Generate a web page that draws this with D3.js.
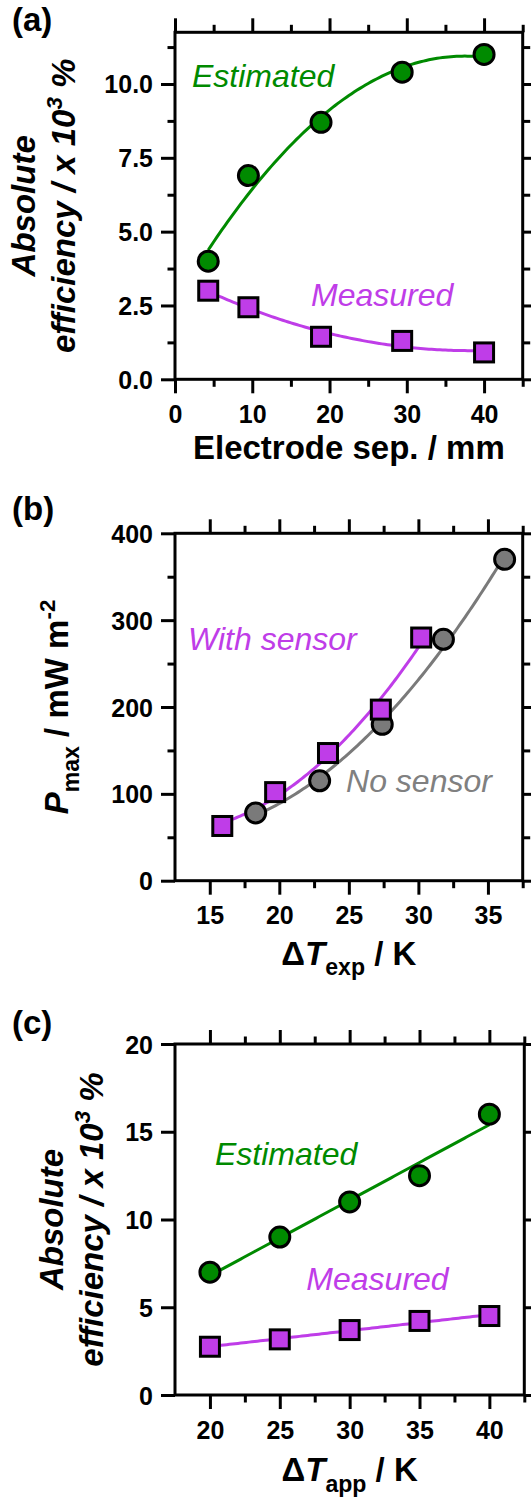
<!DOCTYPE html>
<html>
<head>
<meta charset="utf-8">
<script src="https://cdn.jsdelivr.net/npm/d3@7"></script>
<style>
  body { margin: 0; background: #fff; }
  text { font-family: "Liberation Sans", Arial, sans-serif; }
</style>
</head>
<body>
<div id="chart"></div>
<script>
// (a) efficiency vs electrode separation
const sepMM = [4.3, 9.5, 18.9, 29.4, 40];
const effEstA = [4.0, 6.9, 8.7, 10.4, 11.0];
const effMeasA = [3.0, 2.44, 1.44, 1.3, 0.91];

// (b) power vs experimental dT
const dTwith = [15.9, 19.7, 23.5, 27.3, 30.2];
const pWith = [63, 102, 147, 197, 280];
const dTno = [18.3, 22.9, 27.4, 31.8, 36.2];
const pNo = [78, 115, 180, 278, 370];

// (c) efficiency vs applied dT
const dTapp = [20, 25, 30, 35, 40];
const effEstC = [7.0, 9.0, 11.0, 12.5, 16.0];
const effMeasC = [2.75, 3.17, 3.7, 4.22, 4.5];

// ticks
const xMajorA = [0, 10, 20, 30, 40], xMinorA = [5, 15, 25, 35, 45];
const yMajorA = [0, 2.5, 5, 7.5, 10], yMinorA = [1.25, 3.75, 6.25, 8.75, 11.25];
const xMajorB = [15, 20, 25, 30, 35], xMinorB = [17.5, 22.5, 27.5, 32.5, 37.5];
const yMajorB = [0, 100, 200, 300, 400], yMinorB = [50, 150, 250, 350];
const xMajorC = [20, 25, 30, 35, 40], xMinorC = [22.5, 27.5, 32.5, 37.5, 42.5];
const yMajorC = [0, 5, 10, 15, 20];

const GREEN = "#008a00", PURPLE = "#bf3de8", GREY = "#7a7a7a";

const svg = d3.select("#chart").append("svg")
  .attr("width", 531)
  .attr("height", 1499);

// least squares polynomial, used for the trend lines
function polyfit(xs, ys, deg) {
  const n = deg + 1;
  const A = [];
  for (let i = 0; i < n; i++) {
    A.push([]);
    for (let j = 0; j < n; j++) A[i].push(d3.sum(xs, x => Math.pow(x, i + j)));
    A[i].push(d3.sum(xs, (x, k) => ys[k] * Math.pow(x, i)));
  }
  for (let i = 0; i < n; i++) {
    for (let r = i + 1; r < n; r++) {
      const f = A[r][i] / A[i][i];
      for (let c = i; c <= n; c++) A[r][c] -= f * A[i][c];
    }
  }
  const coef = new Array(n).fill(0);
  for (let i = n - 1; i >= 0; i--) {
    let s = A[i][n];
    for (let j = i + 1; j < n; j++) s -= A[i][j] * coef[j];
    coef[i] = s / A[i][i];
  }
  return x => coef.reduce((acc, c, i) => acc + c * Math.pow(x, i), 0);
}

function addRich(sel, parts, size) {
  parts.forEach(p => {
    const ts = sel.append("tspan").text(p.t)
      .attr("font-style", p.italic ? "italic" : "normal");
    if (p.sub) ts.attr("font-size", size * 0.7).attr("dy", size * 0.32);
    else if (p.sup) ts.attr("font-size", size * 0.68).attr("dy", -size * 0.4);
    if (p.back) ts.attr("dy", p.back * size);
  });
}

function drawPanel(cfg) {
  const x = d3.scaleLinear().domain(cfg.xDomain).range([cfg.left, cfg.right]);
  const y = d3.scaleLinear().domain(cfg.yDomain).range([cfg.bottom, cfg.top]);
  const g = svg.append("g");
  const MAJ = 14, MIN = 7.5;

  function axis(gen, pos, ticks, size, fmt) {
    const a = g.append("g")
      .attr("transform", pos)
      .call(gen.tickValues(ticks).tickSize(size).tickSizeOuter(0)
        .tickFormat(fmt || ""));
    a.select(".domain").remove();
    a.selectAll("line").attr("stroke", "#000").attr("stroke-width", 3);
    return a;
  }

  const bottomAx = axis(d3.axisBottom(x), `translate(0,${cfg.bottom})`, cfg.xMajor, MAJ, d => d);
  bottomAx.selectAll("text").attr("y", 26).attr("dy", "0.71em");
  axis(d3.axisBottom(x), `translate(0,${cfg.bottom})`, cfg.xMinor, MIN);
  axis(d3.axisTop(x), `translate(0,${cfg.top})`, cfg.xMajor, MAJ);
  axis(d3.axisTop(x), `translate(0,${cfg.top})`, cfg.xMinor, MIN);

  const leftAx = axis(d3.axisLeft(y), `translate(${cfg.left},0)`, cfg.yMajor, MAJ, cfg.yFmt);
  leftAx.selectAll("text").attr("x", -22).attr("dy", "0.36em");
  axis(d3.axisRight(y), `translate(${cfg.right},0)`, cfg.yMajor, MAJ);
  if (cfg.yMinor) {
    axis(d3.axisLeft(y), `translate(${cfg.left},0)`, cfg.yMinor, MIN);
    axis(d3.axisRight(y), `translate(${cfg.right},0)`, cfg.yMinor, MIN);
  }
  g.selectAll(".tick text")
    .attr("fill", "#000")
    .attr("font-size", 25)
    .attr("font-weight", "bold")
    .attr("font-family", '"Liberation Sans", Arial, sans-serif');

  g.append("rect")
    .attr("x", cfg.left).attr("y", cfg.top)
    .attr("width", cfg.right - cfg.left).attr("height", cfg.bottom - cfg.top)
    .attr("fill", "none").attr("stroke", "#000").attr("stroke-width", 3);

  // trend lines
  cfg.series.forEach(s => {
    const f = polyfit(s.x, s.y, s.deg);
    const x0 = d3.min(s.x), x1 = d3.max(s.x);
    const pts = d3.range(0, 101).map(i => x0 + (x1 - x0) * i / 100);
    g.append("path")
      .datum(pts)
      .attr("fill", "none")
      .attr("stroke", s.color)
      .attr("stroke-width", 3)
      .attr("d", d3.line().x(d => x(d)).y(d => y(f(d))));
  });

  // markers
  cfg.series.forEach(s => {
    const pts = s.x.map((v, i) => ({ x: v, y: s.y[i] }));
    if (s.shape === "circle") {
      g.append("g").selectAll("circle").data(pts).enter().append("circle")
        .attr("cx", d => x(d.x)).attr("cy", d => y(d.y)).attr("r", 10)
        .attr("fill", s.color).attr("stroke", "#000").attr("stroke-width", 3);
    } else {
      g.append("g").selectAll("rect").data(pts).enter().append("rect")
        .attr("x", d => x(d.x) - 9.5).attr("y", d => y(d.y) - 9.5)
        .attr("width", 19).attr("height", 19)
        .attr("fill", s.color).attr("stroke", "#000").attr("stroke-width", 3);
    }
  });

  // series names
  cfg.notes.forEach(n => {
    g.append("text")
      .attr("x", x(n.x)).attr("y", y(n.y))
      .attr("fill", n.color)
      .attr("font-size", 32)
      .attr("font-style", "italic")
      .text(n.text);
  });

  // panel tag
  g.append("text")
    .attr("x", 12).attr("y", cfg.tagY)
    .attr("font-size", 33).attr("font-weight", "bold")
    .text(cfg.tag);

  // x title
  const xt = g.append("text")
    .attr("x", (cfg.left + cfg.right) / 2).attr("y", cfg.bottom + cfg.xTitleGap)
    .attr("text-anchor", "middle")
    .attr("font-size", 33).attr("font-weight", "bold");
  addRich(xt, cfg.xTitle, 33);

  // y title, rotated lines
  const cy = (cfg.top + cfg.bottom) / 2;
  cfg.yTitle.forEach(line => {
    const t = g.append("text")
      .attr("transform", `translate(${line.bx},${cy}) rotate(-90)`)
      .attr("text-anchor", "middle")
      .attr("font-size", 33).attr("font-weight", "bold");
    addRich(t, line.parts, 33);
  });
}

drawPanel({
  left: 175, right: 522.7, top: 32.3, bottom: 379.3,
  xDomain: [0, 45], yDomain: [0, 11.75],
  xMajor: xMajorA, xMinor: xMinorA, yMajor: yMajorA, yMinor: yMinorA,
  yFmt: d3.format(".1f"),
  series: [
    { x: sepMM, y: effEstA, color: GREEN, shape: "circle", deg: 2 },
    { x: sepMM, y: effMeasA, color: PURPLE, shape: "square", deg: 2 }
  ],
  notes: [
    { text: "Estimated", x: 2.2, y: 9.9, color: GREEN },
    { text: "Measured", x: 17.6, y: 2.48, color: PURPLE }
  ],
  tag: "(a)", tagY: 31, xTitleGap: 80,
  xTitle: [{ t: "Electrode sep. / mm" }],
  yTitle: [
    { bx: 35, parts: [{ t: "Absolute", italic: true }] },
    { bx: 75, parts: [{ t: "efficiency / x 10", italic: true }, { t: "3", italic: true, sup: true },
      { t: " %", italic: true, back: 0.4 }] }
  ]
});

drawPanel({
  left: 175, right: 522.7, top: 533.3, bottom: 880.7,
  xDomain: [12.5, 37.5], yDomain: [0, 400],
  xMajor: xMajorB, xMinor: xMinorB, yMajor: yMajorB, yMinor: yMinorB,
  yFmt: d => d,
  series: [
    { x: dTno, y: pNo, color: GREY, shape: "circle", deg: 2 },
    { x: dTwith, y: pWith, color: PURPLE, shape: "square", deg: 2 }
  ],
  notes: [
    { text: "With sensor", x: 13.44, y: 265.6, color: PURPLE },
    { text: "No sensor", x: 24.8, y: 102, color: "#808080" }
  ],
  tag: "(b)", tagY: 520, xTitleGap: 84,
  xTitle: [{ t: "\u0394" }, { t: "T", italic: true }, { t: "exp", sub: true }, { t: " / K", back: -0.32 }],
  yTitle: [
    { bx: 68, parts: [{ t: "P", italic: true }, { t: "max", sub: true }, { t: " / mW m", back: -0.32 },
      { t: "-2", sup: true }] }
  ]
});

drawPanel({
  left: 175, right: 524.3, top: 1044, bottom: 1395,
  xDomain: [17.5, 42.5], yDomain: [0, 20],
  xMajor: xMajorC, xMinor: xMinorC, yMajor: yMajorC, yMinor: null,
  yFmt: d => d,
  series: [
    { x: dTapp, y: effEstC, color: GREEN, shape: "circle", deg: 1 },
    { x: dTapp, y: effMeasC, color: PURPLE, shape: "square", deg: 1 }
  ],
  notes: [
    { text: "Estimated", x: 20.36, y: 13.1, color: GREEN },
    { text: "Measured", x: 26.9, y: 5.98, color: PURPLE }
  ],
  tag: "(c)", tagY: 1034, xTitleGap: 86,
  xTitle: [{ t: "\u0394" }, { t: "T", italic: true }, { t: "app", sub: true }, { t: " / K", back: -0.32 }],
  yTitle: [
    { bx: 63, parts: [{ t: "Absolute", italic: true }] },
    { bx: 103, parts: [{ t: "efficiency / x 10", italic: true }, { t: "3", italic: true, sup: true },
      { t: " %", italic: true, back: 0.4 }] }
  ]
});
</script>
</body>
</html>
